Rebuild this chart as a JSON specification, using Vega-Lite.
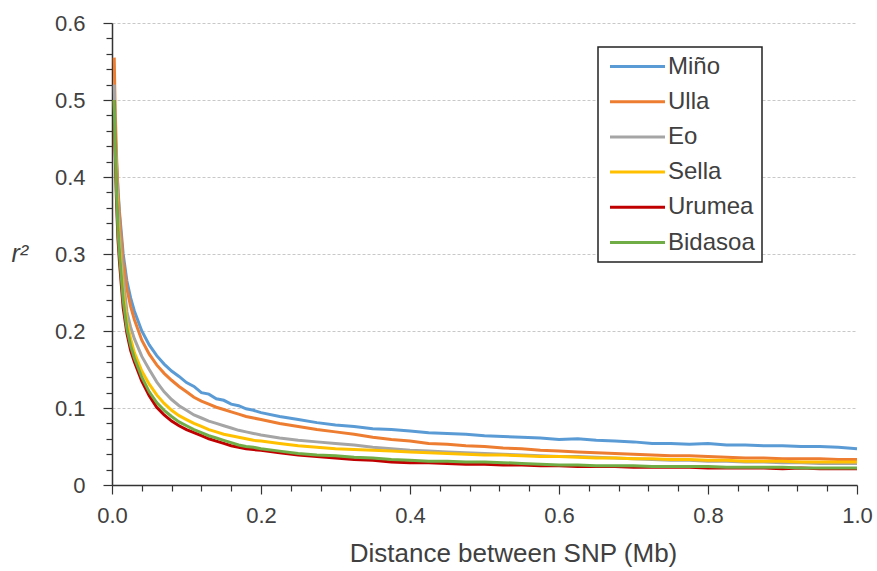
{
  "$schema": "https://vega.github.io/schema/vega-lite/v6.json",
  "width": 745,
  "height": 462,
  "autosize": {"type": "none"},
  "padding": {"left": 112, "top": 23, "right": 20, "bottom": 86},
  "background": "white",
  "config": {
    "view": {"stroke": null},
    "font": "Liberation Sans",
    "axis": {"labelFont": "Liberation Sans", "titleFont": "Liberation Sans", "labelColor": "#404040", "titleColor": "#404040", "domainColor": "#333333", "tickColor": "#333333", "labelFlush": false}
  },
  "data": {
    "values": [
      {"x": 0.003, "Miño": 0.50, "Ulla": 0.555, "Eo": 0.52, "Sella": 0.50, "Urumea": 0.50, "Bidasoa": 0.50},
      {"x": 0.004, "Miño": 0.46, "Ulla": 0.50, "Eo": 0.47, "Sella": 0.45, "Urumea": 0.44, "Bidasoa": 0.45},
      {"x": 0.006, "Miño": 0.42, "Ulla": 0.43, "Eo": 0.41, "Sella": 0.39, "Urumea": 0.37, "Bidasoa": 0.38},
      {"x": 0.008, "Miño": 0.385, "Ulla": 0.38, "Eo": 0.36, "Sella": 0.34, "Urumea": 0.32, "Bidasoa": 0.33},
      {"x": 0.01, "Miño": 0.355, "Ulla": 0.35, "Eo": 0.33, "Sella": 0.31, "Urumea": 0.29, "Bidasoa": 0.30},
      {"x": 0.015, "Miño": 0.30, "Ulla": 0.29, "Eo": 0.27, "Sella": 0.25, "Urumea": 0.23, "Bidasoa": 0.24},
      {"x": 0.02, "Miño": 0.265, "Ulla": 0.255, "Eo": 0.225, "Sella": 0.212, "Urumea": 0.197, "Bidasoa": 0.203},
      {"x": 0.025, "Miño": 0.243, "Ulla": 0.232, "Eo": 0.205, "Sella": 0.19, "Urumea": 0.175, "Bidasoa": 0.181},
      {"x": 0.03, "Miño": 0.226, "Ulla": 0.215, "Eo": 0.19, "Sella": 0.172, "Urumea": 0.16, "Bidasoa": 0.165},
      {"x": 0.04, "Miño": 0.200, "Ulla": 0.188, "Eo": 0.167, "Sella": 0.148, "Urumea": 0.135, "Bidasoa": 0.140},
      {"x": 0.05, "Miño": 0.182, "Ulla": 0.170, "Eo": 0.150, "Sella": 0.131, "Urumea": 0.116, "Bidasoa": 0.121},
      {"x": 0.06, "Miño": 0.168, "Ulla": 0.156, "Eo": 0.134, "Sella": 0.117, "Urumea": 0.101, "Bidasoa": 0.107},
      {"x": 0.07, "Miño": 0.157, "Ulla": 0.145, "Eo": 0.121, "Sella": 0.106, "Urumea": 0.091, "Bidasoa": 0.097},
      {"x": 0.08, "Miño": 0.148, "Ulla": 0.136, "Eo": 0.111, "Sella": 0.097, "Urumea": 0.083, "Bidasoa": 0.089},
      {"x": 0.09, "Miño": 0.141, "Ulla": 0.128, "Eo": 0.103, "Sella": 0.090, "Urumea": 0.077, "Bidasoa": 0.082},
      {"x": 0.10, "Miño": 0.133, "Ulla": 0.121, "Eo": 0.097, "Sella": 0.085, "Urumea": 0.072, "Bidasoa": 0.077},
      {"x": 0.11, "Miño": 0.128, "Ulla": 0.114, "Eo": 0.091, "Sella": 0.080, "Urumea": 0.068, "Bidasoa": 0.072},
      {"x": 0.12, "Miño": 0.120, "Ulla": 0.109, "Eo": 0.087, "Sella": 0.076, "Urumea": 0.064, "Bidasoa": 0.068},
      {"x": 0.13, "Miño": 0.118, "Ulla": 0.105, "Eo": 0.083, "Sella": 0.072, "Urumea": 0.060, "Bidasoa": 0.064},
      {"x": 0.14, "Miño": 0.112, "Ulla": 0.101, "Eo": 0.080, "Sella": 0.069, "Urumea": 0.057, "Bidasoa": 0.061},
      {"x": 0.15, "Miño": 0.110, "Ulla": 0.098, "Eo": 0.077, "Sella": 0.066, "Urumea": 0.054, "Bidasoa": 0.058},
      {"x": 0.16, "Miño": 0.105, "Ulla": 0.095, "Eo": 0.074, "Sella": 0.064, "Urumea": 0.051, "Bidasoa": 0.055},
      {"x": 0.17, "Miño": 0.103, "Ulla": 0.092, "Eo": 0.071, "Sella": 0.062, "Urumea": 0.049, "Bidasoa": 0.052},
      {"x": 0.18, "Miño": 0.099, "Ulla": 0.089, "Eo": 0.069, "Sella": 0.060, "Urumea": 0.047, "Bidasoa": 0.050},
      {"x": 0.19, "Miño": 0.097, "Ulla": 0.087, "Eo": 0.067, "Sella": 0.058, "Urumea": 0.046, "Bidasoa": 0.049},
      {"x": 0.20, "Miño": 0.094, "Ulla": 0.085, "Eo": 0.065, "Sella": 0.057, "Urumea": 0.045, "Bidasoa": 0.047},
      {"x": 0.225, "Miño": 0.089, "Ulla": 0.080, "Eo": 0.061, "Sella": 0.054, "Urumea": 0.042, "Bidasoa": 0.044},
      {"x": 0.25, "Miño": 0.085, "Ulla": 0.076, "Eo": 0.058, "Sella": 0.051, "Urumea": 0.039, "Bidasoa": 0.041},
      {"x": 0.275, "Miño": 0.081, "Ulla": 0.072, "Eo": 0.056, "Sella": 0.049, "Urumea": 0.037, "Bidasoa": 0.039},
      {"x": 0.30, "Miño": 0.078, "Ulla": 0.069, "Eo": 0.054, "Sella": 0.047, "Urumea": 0.035, "Bidasoa": 0.038},
      {"x": 0.325, "Miño": 0.076, "Ulla": 0.066, "Eo": 0.052, "Sella": 0.046, "Urumea": 0.033, "Bidasoa": 0.036},
      {"x": 0.35, "Miño": 0.073, "Ulla": 0.062, "Eo": 0.049, "Sella": 0.045, "Urumea": 0.032, "Bidasoa": 0.035},
      {"x": 0.375, "Miño": 0.072, "Ulla": 0.059, "Eo": 0.047, "Sella": 0.044, "Urumea": 0.030, "Bidasoa": 0.033},
      {"x": 0.40, "Miño": 0.070, "Ulla": 0.057, "Eo": 0.045, "Sella": 0.043, "Urumea": 0.029, "Bidasoa": 0.032},
      {"x": 0.425, "Miño": 0.068, "Ulla": 0.054, "Eo": 0.044, "Sella": 0.042, "Urumea": 0.029, "Bidasoa": 0.031},
      {"x": 0.45, "Miño": 0.067, "Ulla": 0.053, "Eo": 0.043, "Sella": 0.041, "Urumea": 0.028, "Bidasoa": 0.031},
      {"x": 0.475, "Miño": 0.066, "Ulla": 0.051, "Eo": 0.042, "Sella": 0.040, "Urumea": 0.027, "Bidasoa": 0.030},
      {"x": 0.50, "Miño": 0.064, "Ulla": 0.050, "Eo": 0.041, "Sella": 0.039, "Urumea": 0.027, "Bidasoa": 0.030},
      {"x": 0.525, "Miño": 0.063, "Ulla": 0.048, "Eo": 0.040, "Sella": 0.039, "Urumea": 0.026, "Bidasoa": 0.029},
      {"x": 0.55, "Miño": 0.062, "Ulla": 0.047, "Eo": 0.039, "Sella": 0.038, "Urumea": 0.026, "Bidasoa": 0.028},
      {"x": 0.575, "Miño": 0.061, "Ulla": 0.045, "Eo": 0.038, "Sella": 0.037, "Urumea": 0.025, "Bidasoa": 0.027},
      {"x": 0.60, "Miño": 0.059, "Ulla": 0.044, "Eo": 0.037, "Sella": 0.037, "Urumea": 0.025, "Bidasoa": 0.026},
      {"x": 0.625, "Miño": 0.060, "Ulla": 0.043, "Eo": 0.037, "Sella": 0.036, "Urumea": 0.024, "Bidasoa": 0.026},
      {"x": 0.65, "Miño": 0.058, "Ulla": 0.042, "Eo": 0.036, "Sella": 0.035, "Urumea": 0.024, "Bidasoa": 0.025},
      {"x": 0.675, "Miño": 0.057, "Ulla": 0.041, "Eo": 0.035, "Sella": 0.035, "Urumea": 0.024, "Bidasoa": 0.025},
      {"x": 0.70, "Miño": 0.056, "Ulla": 0.040, "Eo": 0.034, "Sella": 0.034, "Urumea": 0.023, "Bidasoa": 0.025},
      {"x": 0.725, "Miño": 0.054, "Ulla": 0.039, "Eo": 0.033, "Sella": 0.034, "Urumea": 0.023, "Bidasoa": 0.024},
      {"x": 0.75, "Miño": 0.054, "Ulla": 0.038, "Eo": 0.032, "Sella": 0.033, "Urumea": 0.023, "Bidasoa": 0.024},
      {"x": 0.775, "Miño": 0.053, "Ulla": 0.038, "Eo": 0.032, "Sella": 0.033, "Urumea": 0.023, "Bidasoa": 0.024},
      {"x": 0.80, "Miño": 0.054, "Ulla": 0.037, "Eo": 0.031, "Sella": 0.032, "Urumea": 0.022, "Bidasoa": 0.024},
      {"x": 0.825, "Miño": 0.052, "Ulla": 0.036, "Eo": 0.031, "Sella": 0.032, "Urumea": 0.022, "Bidasoa": 0.023},
      {"x": 0.85, "Miño": 0.052, "Ulla": 0.035, "Eo": 0.030, "Sella": 0.031, "Urumea": 0.022, "Bidasoa": 0.023},
      {"x": 0.875, "Miño": 0.051, "Ulla": 0.035, "Eo": 0.030, "Sella": 0.031, "Urumea": 0.022, "Bidasoa": 0.023},
      {"x": 0.90, "Miño": 0.051, "Ulla": 0.034, "Eo": 0.029, "Sella": 0.031, "Urumea": 0.021, "Bidasoa": 0.023},
      {"x": 0.925, "Miño": 0.050, "Ulla": 0.034, "Eo": 0.029, "Sella": 0.030, "Urumea": 0.022, "Bidasoa": 0.022},
      {"x": 0.95, "Miño": 0.050, "Ulla": 0.034, "Eo": 0.028, "Sella": 0.030, "Urumea": 0.021, "Bidasoa": 0.022},
      {"x": 0.975, "Miño": 0.049, "Ulla": 0.033, "Eo": 0.028, "Sella": 0.030, "Urumea": 0.021, "Bidasoa": 0.022},
      {"x": 1.0, "Miño": 0.047, "Ulla": 0.033, "Eo": 0.028, "Sella": 0.030, "Urumea": 0.021, "Bidasoa": 0.022}
    ]
  },
  "transform": [
    {"fold": ["Miño", "Ulla", "Eo", "Sella", "Urumea", "Bidasoa"], "as": ["pop", "r2"]}
  ],
  "resolve": {"axis": {"x": "independent", "y": "independent"}},
  "layer": [
    {
      "mark": {"type": "point", "opacity": 0},
      "encoding": {
        "x": {"field": "x", "type": "quantitative", "scale": {"domain": [0, 1], "nice": false, "zero": false},
          "axis": {"orient": "bottom", "values": [0.04, 0.08, 0.12, 0.16, 0.24, 0.28, 0.32, 0.36, 0.44, 0.48, 0.52, 0.56, 0.64, 0.68, 0.72, 0.76, 0.84, 0.88, 0.92, 0.96], "labels": false, "domain": false, "grid": false, "tickSize": 6, "tickWidth": 1.2, "title": null}},
        "y": {"field": "r2", "type": "quantitative", "scale": {"domain": [0, 0.6], "nice": false},
          "axis": {"orient": "left", "values": [0.02, 0.04, 0.06, 0.08, 0.12, 0.14, 0.16, 0.18, 0.22, 0.24, 0.26, 0.28, 0.32, 0.34, 0.36, 0.38, 0.42, 0.44, 0.46, 0.48, 0.52, 0.54, 0.56, 0.58], "labels": false, "domain": false, "grid": false, "tickSize": 6, "tickWidth": 1.2, "title": null}}
      }
    },
    {
      "mark": {"type": "line", "strokeWidth": 3, "interpolate": "linear"},
      "encoding": {
        "x": {"field": "x", "type": "quantitative", "scale": {"domain": [0, 1], "nice": false, "zero": false},
          "axis": {"orient": "bottom", "values": [0, 0.2, 0.4, 0.6, 0.8, 1.0], "format": ".1f", "grid": false, "labelFlush": false, "tickSize": 9, "tickWidth": 1.2, "domainWidth": 1.5, "labelFontSize": 22, "labelPadding": 11, "title": "Distance between SNP (Mb)", "titleFontSize": 26, "titleFontWeight": "normal", "titleX": 401, "titleY": 68, "titleBaseline": "middle", "titleAlign": "center"}},
        "y": {"field": "r2", "type": "quantitative", "scale": {"domain": [0, 0.6], "nice": false},
          "axis": {"orient": "left", "values": [0, 0.1, 0.2, 0.3, 0.4, 0.5, 0.6], "format": ".1~f", "grid": true, "labelFlush": false, "gridColor": "#c8c8c8", "gridDash": [3, 2], "gridWidth": 1, "tickSize": 9, "tickWidth": 1.2, "domainWidth": 1.5, "labelFontSize": 22, "labelPadding": 18, "title": "r²", "titleAngle": 0, "titleFontStyle": "italic", "titleFontWeight": "normal", "titleFontSize": 25, "titleX": -101, "titleY": 230, "titleAlign": "left", "titleBaseline": "middle"}},
        "color": {"field": "pop", "type": "nominal",
          "scale": {"domain": ["Miño", "Ulla", "Eo", "Sella", "Urumea", "Bidasoa"], "range": ["#5B9BD5", "#ED7D31", "#A5A5A5", "#FFC000", "#C00000", "#70AD47"]},
          "legend": {"orient": "none", "legendX": 486, "legendY": 24, "title": null, "symbolType": "M-2.5,0H2.5", "symbolSize": 484, "symbolStrokeWidth": 3, "symbolOffset": 20, "labelOffset": 18, "labelFontSize": 24, "labelFont": "Liberation Sans", "labelColor": "#404040", "strokeColor": "#222222", "fillColor": "white", "padding": 7, "rowPadding": 10.2,
            "encode": {"legend": {"update": {"strokeWidth": {"value": 1.5}}}}}},
        "order": {"field": "pop", "sort": "ascending"}
      }
    }
  ]
}
